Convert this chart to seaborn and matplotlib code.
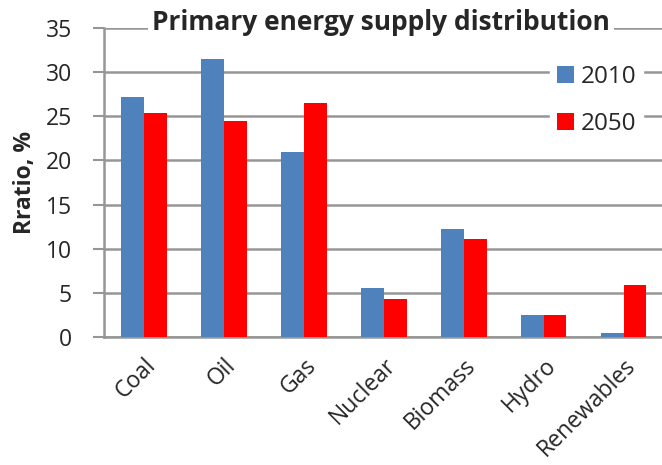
import matplotlib
matplotlib.use("Agg")
import matplotlib.pyplot as plt
import seaborn as sns
import pandas as pd

categories = ["Coal", "Oil", "Gas", "Nuclear", "Biomass", "Hydro", "Renewables"]
years = ["2010", "2050"]
values_2010 = [27.2, 31.5, 20.9, 5.6, 12.2, 2.45, 0.4]
values_2050 = [25.4, 24.5, 26.5, 4.25, 11.05, 2.45, 5.85]
y_ticks = [0, 5, 10, 15, 20, 25, 30, 35]

df = pd.DataFrame({
    "Source": categories * 2,
    "Year": [years[0]] * len(categories) + [years[1]] * len(categories),
    "Ratio": values_2010 + values_2050,
})

sns.set_theme(style="white")
plt.rcParams["font.family"] = ["Open Sans", "DejaVu Sans"]

fig = plt.figure(figsize=(6.62, 4.65), dpi=100)
ax = fig.add_axes([104 / 662, 1 - 337 / 465, 558 / 662, 309 / 465])

grid_color = "#969696"
sns.barplot(data=df, x="Source", y="Ratio", hue="Year", order=categories,
            hue_order=years, palette=["#4F81BD", "#FF0000"], width=0.57,
            gap=0, saturation=1, linewidth=0, ax=ax, zorder=3, legend=True)

ax.set_ylim(0, 35)
ax.set_xlim(-0.5, 6.48)
ax.set_yticks(y_ticks)
ax.yaxis.grid(True, color=grid_color, linewidth=1.8, zorder=0)
ax.set_axisbelow(True)
ax.tick_params(axis="y", length=8, width=1.5, color=grid_color,
               labelsize=16.5, pad=15, left=True)
ax.tick_params(axis="x", length=0, labelsize=16.5, pad=12)
for lbl in ax.get_xticklabels():
    lbl.set_rotation(45)
    lbl.set_ha("right")
    lbl.set_rotation_mode("anchor")
for side in ["top", "right"]:
    ax.spines[side].set_visible(False)
for side in ["left", "bottom"]:
    ax.spines[side].set_color(grid_color)
    ax.spines[side].set_linewidth(1.8)

ax.set_xlabel("")
ax.set_ylabel("Rratio, %", fontsize=16.5, fontweight="bold", labelpad=6)

handles, labels = ax.get_legend_handles_labels()
leg = ax.legend(handles, labels, loc="upper left",
                bbox_to_anchor=(550 / 662, 1 - 58 / 465),
                bbox_transform=fig.transFigure, frameon=True,
                fontsize=17.5, handlelength=0.7, handleheight=0.7,
                handletextpad=0.25, labelspacing=0.95, borderpad=0.3,
                borderaxespad=0)
leg.get_frame().set_facecolor("white")
leg.get_frame().set_edgecolor("white")
leg.get_frame().set_alpha(1)
leg.set_zorder(5)

fig.text(381 / 662, 1 - 22 / 465, "Primary energy supply distribution",
         ha="center", va="center", fontsize=19, fontweight="bold",
         bbox=dict(facecolor="white", edgecolor="none", pad=3))

fig.savefig("out.png", dpi=100)
